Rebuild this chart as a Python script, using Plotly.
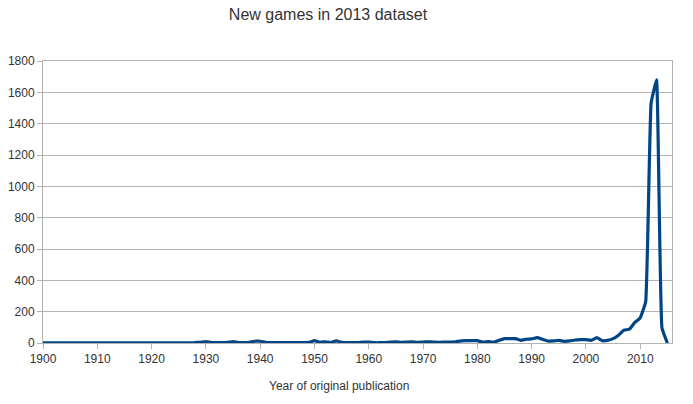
import plotly.graph_objects as go

years = list(range(1900, 2016))
counts = (
    [1, 1, 1, 1, 1, 1, 1, 1, 1, 1,          # 1900-1909
     1, 1, 1, 1, 1, 1, 1, 1, 1, 1,          # 1910-1919
     1, 1, 1, 1, 1, 1, 1, 1, 2, 5,          # 1920-1929
     9, 3, 2, 2, 4, 9, 3, 2, 5, 11,         # 1930-1939
     11, 4, 2, 2, 2, 2, 2, 2, 3, 4,         # 1940-1949
     15, 5, 8, 4, 13, 4, 3, 2, 3, 6,        # 1950-1959
     6, 2, 2, 3, 5, 7, 4, 6, 7, 4,          # 1960-1969
     6, 7, 6, 4, 6, 5, 8, 14, 15, 15,       # 1970-1979
     15, 5, 9, 5, 17, 28, 28, 28, 17, 24,   # 1980-1989
     26, 34, 24, 13, 13, 17, 11, 13, 19, 21,  # 1990-1999
     21, 17, 34, 15, 17, 28, 50, 82, 88, 131,  # 2000-2009
     161, 263, 1530, 1679, 96, 0]           # 2010-2015
)

y_ticks = [0, 200, 400, 600, 800, 1000, 1200, 1400, 1600, 1800]
x_ticks = list(range(1900, 2011, 10))
title_text = "New games in 2013 dataset"
x_title_text = "Year of original publication"

fig = go.Figure()
fig.add_trace(go.Scatter(
    x=years, y=counts, mode="lines",
    line=dict(color="#004586", width=3.2, shape="spline", smoothing=0.3),
    showlegend=False,
))

font_family = "Liberation Sans, Arial, sans-serif"
axis_font = dict(family=font_family, size=12, color="#333333")
fig.update_layout(
    width=693, height=404,
    margin=dict(l=43, r=21, t=61, b=61),
    paper_bgcolor="white", plot_bgcolor="white",
    title=dict(text=title_text, xref="container", x=328 / 693, xanchor="center",
               yref="container", y=1 - 14 / 404, yanchor="middle",
               font=dict(family=font_family, size=16, color="#333333")),
    xaxis=dict(
        range=[1900, 2015.85], tickvals=x_ticks, ticktext=[str(v) for v in x_ticks],
        showgrid=False, zeroline=False, showline=True, linecolor="#b3b3b3", linewidth=1,
        mirror=True, ticks="outside", ticklen=5, tickcolor="#b3b3b3",
        tickfont=axis_font, automargin=False,
    ),
    yaxis=dict(
        range=[0, 1800], tickvals=y_ticks, ticktext=[str(v) for v in y_ticks],
        showgrid=True, gridcolor="#b3b3b3", gridwidth=1, zeroline=False,
        showline=True, linecolor="#b3b3b3", linewidth=1, mirror=True,
        ticks="outside", ticklen=5, tickcolor="#b3b3b3", tickfont=axis_font,
        automargin=False,
    ),
    annotations=[dict(
        text=x_title_text, xref="paper", yref="paper",
        x=(339 - 43) / (693 - 43 - 21), xanchor="center",
        y=-(386 - 343) / (404 - 61 - 61), yanchor="middle",
        showarrow=False, font=axis_font,
    )],
)

fig.write_html("out.html", config={"displayModeBar": False},
               post_script="document.body.style.margin='0';")
